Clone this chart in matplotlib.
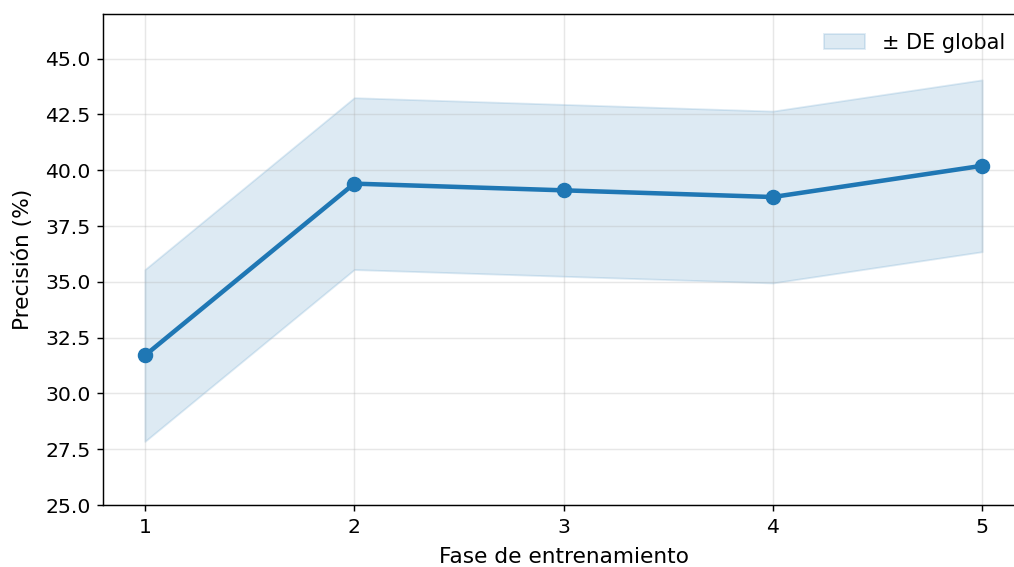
import numpy as np
import matplotlib.pyplot as plt

# data
fases = [1, 2, 3, 4, 5]
precision = [31.7, 39.4, 39.1, 38.8, 40.2]
de_global = 3.85

media = np.array(precision)

s = 1.3  # escala respecto a la figura original
fig = plt.figure(figsize=(10.14, 5.67), dpi=100)
ax = fig.add_axes([0.1016, 0.1093, 1.0099 - 0.1016, 0.9753 - 0.1093])

ax.fill_between(fases, media - de_global, media + de_global,
                color='#1f77b4', alpha=0.15, lw=1 * s, label='± DE global')
ax.plot(fases, media, '-o', color='#1f77b4', lw=2.5 * s, ms=7.8 * s)

ax.set_xlim(0.8, 5.2)
ax.set_ylim(25, 47)
ax.set_xticks(fases)
ax.set_yticks(np.arange(25, 45.1, 2.5))
ax.tick_params(labelsize=11.3 * s, length=3.5 * s, width=0.8 * s, pad=3.5 * s)
for sp in ax.spines.values():
    sp.set_linewidth(0.8 * s)
ax.grid(True, color='#b0b0b0', lw=0.8 * s, alpha=0.3)
ax.set_xlabel('Fase de entrenamiento', fontsize=12 * s, labelpad=5.5 * s)
ax.set_ylabel('Precisión (%)', fontsize=12 * s, labelpad=6.5 * s)
ax.legend(loc='upper right', frameon=False, fontsize=11.5 * s)

fig.savefig('out.png', dpi=100)
